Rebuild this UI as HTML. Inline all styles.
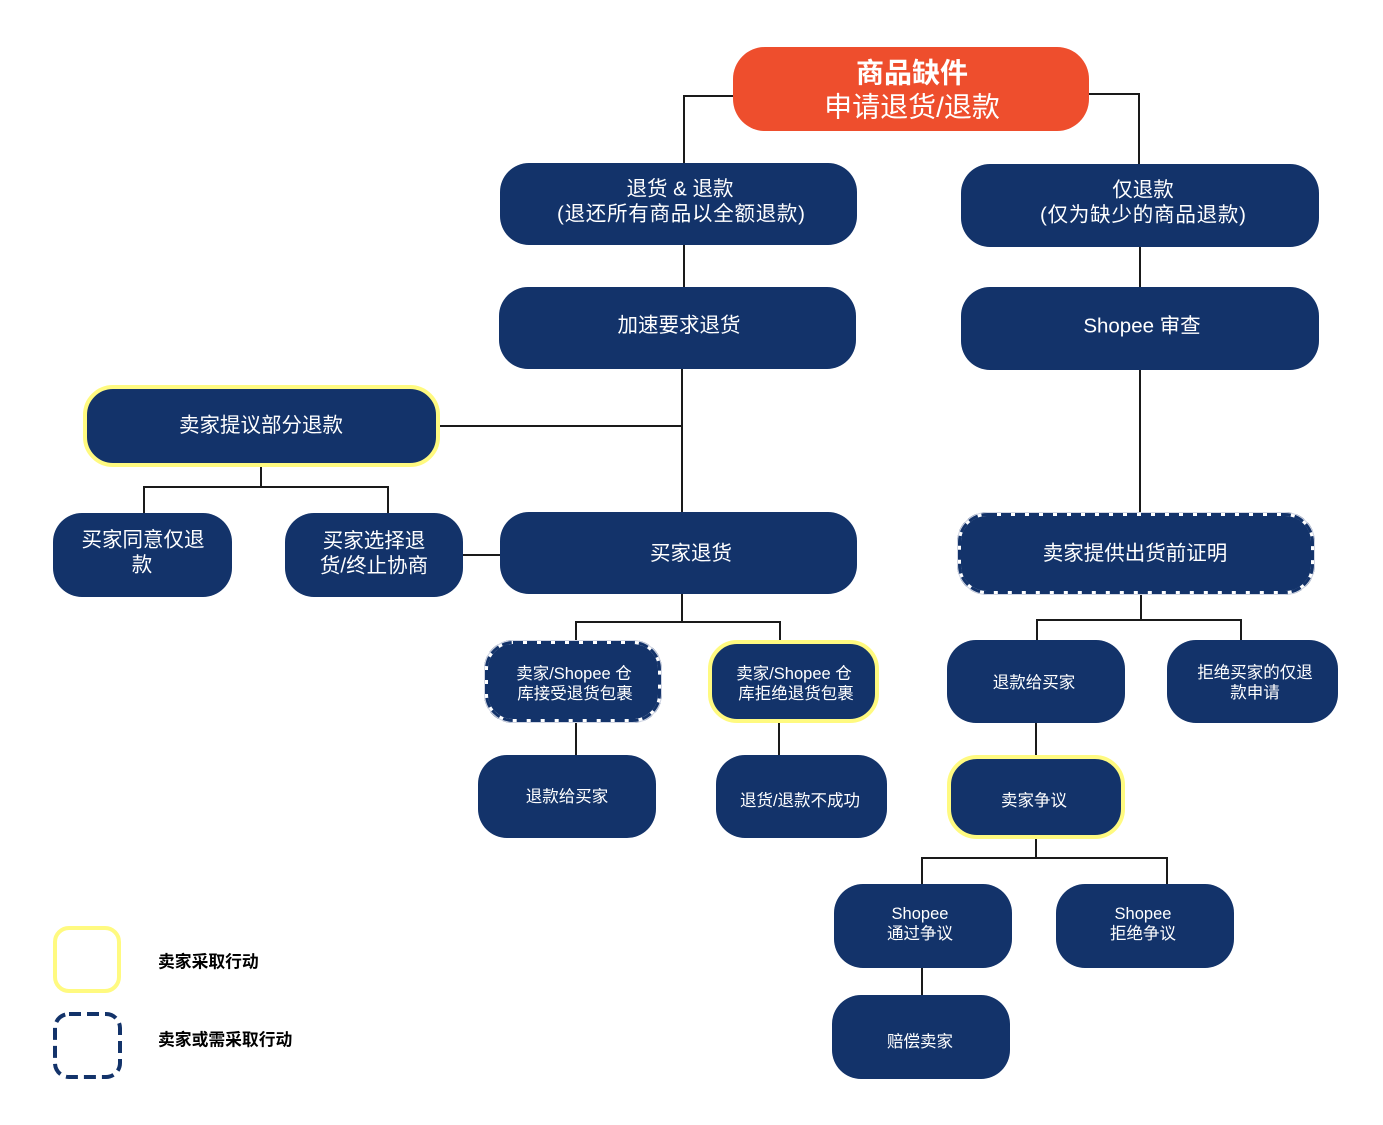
<!DOCTYPE html>
<html>
<head>
<meta charset="utf-8">
<style>
  html,body{margin:0;padding:0;background:#fff;}
  svg{display:block;}
  text{font-family:"Liberation Sans","Noto Sans CJK SC",sans-serif;fill:#fff;}
</style>
</head>
<body>
<svg width="1383" height="1125" viewBox="0 0 1383 1125" xmlns="http://www.w3.org/2000/svg">
  <rect width="1383" height="1125" fill="#fff"/>

  <!-- connectors -->
  <g stroke="#1a1a1a" stroke-width="2" fill="none">
    <polyline points="733,96 684,96 684,163"/>
    <polyline points="1089,94 1139,94 1139,165"/>
    <line x1="684" y1="245" x2="684" y2="287"/>
    <line x1="1140" y1="247" x2="1140" y2="287"/>
    <line x1="682" y1="369" x2="682" y2="512"/>
    <line x1="440" y1="426" x2="682" y2="426"/>
    <line x1="261" y1="466" x2="261" y2="487"/>
    <polyline points="144,514 144,487 388,487 388,514"/>
    <line x1="463" y1="555" x2="500" y2="555"/>
    <line x1="682" y1="594" x2="682" y2="622"/>
    <polyline points="576,641 576,622 780,622 780,641"/>
    <line x1="576" y1="721" x2="576" y2="756"/>
    <line x1="779" y1="721" x2="779" y2="756"/>
    <line x1="1140" y1="369" x2="1140" y2="513"/>
    <line x1="1141" y1="593" x2="1141" y2="620"/>
    <polyline points="1037,640 1037,620 1241,620 1241,640"/>
    <line x1="1036" y1="723" x2="1036" y2="756"/>
    <line x1="1036" y1="838" x2="1036" y2="858"/>
    <polyline points="922,884 922,858 1167,858 1167,884"/>
    <line x1="922" y1="967" x2="922" y2="996"/>
  </g>

  <!-- top orange node -->
  <rect x="733" y="47" width="356" height="84" rx="32" fill="#EE4E2D"/>
  <text x="912" y="73" font-size="28" font-weight="bold" text-anchor="middle" dominant-baseline="central">商品缺件</text>
  <text x="912" y="107" font-size="28" text-anchor="middle" dominant-baseline="central">申请退货/退款</text>

  <g fill="#13336A">
    <!-- plain nodes -->
    <rect x="500" y="163" width="357" height="82" rx="29"/>
    <rect x="961" y="164" width="358" height="83" rx="29"/>
    <rect x="499" y="287" width="357" height="82" rx="29"/>
    <rect x="961" y="287" width="358" height="83" rx="29"/>
    <rect x="53" y="513" width="179" height="84" rx="29"/>
    <rect x="285" y="513" width="178" height="84" rx="29"/>
    <rect x="500" y="512" width="357" height="82" rx="29"/>
    <rect x="478" y="755" width="178" height="83" rx="29"/>
    <rect x="716" y="755" width="171" height="83" rx="29"/>
    <rect x="947" y="640" width="178" height="83" rx="29"/>
    <rect x="1167" y="640" width="171" height="83" rx="29"/>
    <rect x="834" y="884" width="178" height="84" rx="29"/>
    <rect x="1056" y="884" width="178" height="84" rx="29"/>
    <rect x="832" y="995" width="178" height="84" rx="29"/>
  </g>

  <!-- yellow-bordered nodes -->
  <g fill="#13336A" stroke="#FFFA80" stroke-width="4">
    <rect x="85" y="387" width="353" height="78" rx="28"/>
    <rect x="710" y="642" width="167" height="79" rx="27"/>
    <rect x="949" y="757" width="174" height="80" rx="28"/>
  </g>

  <!-- dashed nodes -->
  <g fill="#13336A">
    <rect x="486" y="642" width="174" height="79" rx="27" stroke="#ffffff" stroke-width="4"/>
    <rect x="486" y="642" width="174" height="79" rx="27" fill="none" stroke="#13336A" stroke-width="4" stroke-dasharray="10 4"/>
    <rect x="484.5" y="640.5" width="177" height="82" rx="29" fill="none" stroke="#cfd4e2" stroke-width="1"/>
    <rect x="959" y="514" width="354" height="79" rx="28" stroke="#ffffff" stroke-width="4"/>
    <rect x="959" y="514" width="354" height="79" rx="28" fill="none" stroke="#13336A" stroke-width="4" stroke-dasharray="10 4"/>
    <rect x="957.5" y="512.5" width="357" height="82" rx="30" fill="none" stroke="#cfd4e2" stroke-width="1"/>
  </g>

  <!-- texts -->
  <g font-size="20.5" text-anchor="middle" dominant-baseline="central">
    <text x="680" y="189">退货 &amp; 退款</text>
    <text x="681" y="214" textLength="248">(退还所有商品以全额退款)</text>
    <text x="1143" y="190">仅退款</text>
    <text x="1143" y="215" textLength="206">(仅为缺少的商品退款)</text>
    <text x="679" y="325.5">加速要求退货</text>
    <text x="1142" y="326">Shopee 审查</text>
    <text x="261" y="425.5">卖家提议部分退款</text>
    <text x="143" y="540">买家同意仅退</text>
    <text x="142" y="565">款</text>
    <text x="374" y="541">买家选择退</text>
    <text x="374" y="566">货/终止协商</text>
    <text x="691" y="553.5">买家退货</text>
    <text x="1135" y="553.5">卖家提供出货前证明</text>
  </g>
  <g font-size="16.5" text-anchor="middle" dominant-baseline="central">
    <text x="574" y="674">卖家/Shopee 仓</text>
    <text x="575" y="694">库接受退货包裹</text>
    <text x="794" y="674">卖家/Shopee 仓</text>
    <text x="796" y="694">库拒绝退货包裹</text>
    <text x="567" y="797">退款给买家</text>
    <text x="800" y="801">退货/退款不成功</text>
    <text x="1034" y="683">退款给买家</text>
    <text x="1255" y="673">拒绝买家的仅退</text>
    <text x="1255" y="693">款申请</text>
    <text x="1034" y="801">卖家争议</text>
    <text x="920" y="914">Shopee</text>
    <text x="920" y="934">通过争议</text>
    <text x="1143" y="914">Shopee</text>
    <text x="1143" y="934">拒绝争议</text>
    <text x="920" y="1042">赔偿卖家</text>
  </g>

  <!-- legend -->
  <rect x="55" y="928" width="64" height="63" rx="14" fill="none" stroke="#FFFA80" stroke-width="4"/>
  <rect x="55" y="1014" width="65" height="63" rx="14" fill="none" stroke="#13336A" stroke-width="4" stroke-dasharray="12 6"/>
  <g font-size="16.8" font-weight="bold" dominant-baseline="central">
    <text x="158" y="962" style="fill:#000">卖家采取行动</text>
    <text x="158" y="1040" style="fill:#000">卖家或需采取行动</text>
  </g>
</svg>
</body>
</html>
